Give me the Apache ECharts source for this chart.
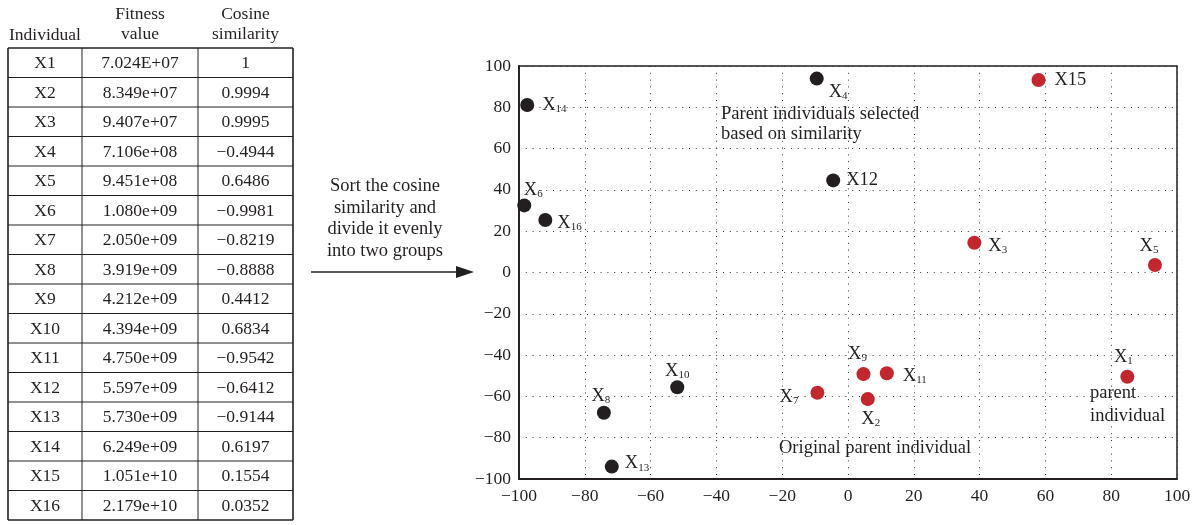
<!DOCTYPE html>
<html>
<head>
<meta charset="utf-8">
<script src="https://cdn.jsdelivr.net/npm/echarts@6/dist/echarts.min.js"></script>
<style>
  html, body { margin: 0; padding: 0; background: #fff; }
  #chart { width: 1202px; height: 525px; }
</style>
</head>
<body>
<div id="chart"></div>
<script>
// Table of candidate individuals
const individuals = ['X1', 'X2', 'X3', 'X4', 'X5', 'X6', 'X7', 'X8', 'X9', 'X10', 'X11', 'X12', 'X13', 'X14', 'X15', 'X16'];
const fitnessValues = ['7.024E+07', '8.349e+07', '9.407e+07', '7.106e+08', '9.451e+08', '1.080e+09', '2.050e+09', '3.919e+09',
  '4.212e+09', '4.394e+09', '4.750e+09', '5.597e+09', '5.730e+09', '6.249e+09', '1.051e+10', '2.179e+10'];
const cosineValues = ['1', '0.9994', '0.9995', '\u22120.4944', '0.6486', '\u22120.9981', '\u22120.8219', '\u22120.8888',
  '0.4412', '0.6834', '\u22120.9542', '\u22120.6412', '\u22120.9144', '0.6197', '0.1554', '0.0352'];

// Parent individuals selected based on similarity (black)
const selectedNames = ['X14', 'X6', 'X16', 'X4', 'X12', 'X10', 'X8', 'X13'];
const selectedX = [-97.5, -98.4, -92.0, -9.5, -4.5, -51.9, -74.2, -71.8];
const selectedY = [81.1, 32.5, 25.4, 93.9, 44.6, -55.6, -67.9, -94.0];

// Original parent individuals (red)
const originalNames = ['X15', 'X3', 'X5', 'X9', 'X11', 'X2', 'X7', 'X1'];
const originalX = [57.9, 38.4, 93.3, 4.7, 11.8, 6.0, -9.3, 84.9];
const originalY = [93.2, 14.4, 3.6, -49.2, -48.8, -61.3, -58.2, -50.5];

// Axis ticks
const xTicks = [-100, -80, -60, -40, -20, 0, 20, 40, 60, 80, 100];
const yTicks = [-100, -80, -60, -40, -20, 0, 20, 40, 60, 80, 100];

// Where each point's name is placed around its marker
const labelPlacement = {
  X14: { position: 'right', offset: [3, 0] },
  X6:  { position: 'top', offset: [9, 6] },
  X16: { position: 'right', offset: [0, 3] },
  X4:  { position: 'right', offset: [0, 14] },
  X12: { position: 'right', offset: [1, 0] },
  X10: { position: 'top', offset: [0, 5] },
  X8:  { position: 'top', offset: [-3, 5] },
  X13: { position: 'right', offset: [1, -3] },
  X15: { position: 'right', offset: [4, 0] },
  X3:  { position: 'right', offset: [2, 3] },
  X5:  { position: 'top', offset: [-6, 3] },
  X9:  { position: 'top', offset: [-6, 2] },
  X11: { position: 'right', offset: [4, 3] },
  X2:  { position: 'bottom', offset: [3, -1] },
  X7:  { position: 'left', offset: [-7, 4] },
  X1:  { position: 'top', offset: [-4, 2] }
};
// Names written without a subscript
const plainNames = ['X12', 'X15'];

const SERIF = '"Liberation Serif", "DejaVu Serif", serif';
const INK = '#231f20';
const RED = '#c1272d';

function pointData(names, xs, ys) {
  return names.map((n, i) => {
    const p = labelPlacement[n];
    return {
      name: n,
      value: [xs[i], ys[i]],
      label: { show: true, position: p.position, offset: p.offset }
    };
  });
}

function nameLabel(params) {
  const n = params.name;
  if (plainNames.indexOf(n) >= 0) return '{x|' + n + '}';
  return '{x|X}{s|' + n.slice(1) + '}';
}

const labelStyle = {
  show: true,
  distance: 5,
  formatter: nameLabel,
  rich: {
    x: { fontFamily: SERIF, fontSize: 18.5, color: INK, lineHeight: 19 },
    s: { fontFamily: SERIF, fontSize: 11, color: INK, verticalAlign: 'bottom', lineHeight: 10, padding: [9, 0, 0, 0] }
  }
};

// ---------- table graphics ----------
const colX = [8, 82, 198, 293];
const tableTop = 48;
const rowH = 29.5;
const TABLE_FONT = 17.5;
const graphics = [];

function text(x, y, str, size, align) {
  return {
    type: 'text', x: x, y: y, silent: true,
    style: { text: str, fontFamily: SERIF, fontSize: size, fill: INK, align: align || 'center', verticalAlign: 'middle' }
  };
}

graphics.push(text((colX[0] + colX[1]) / 2, 35, 'Individual', TABLE_FONT));
graphics.push(text((colX[1] + colX[2]) / 2, 14, 'Fitness', TABLE_FONT));
graphics.push(text((colX[1] + colX[2]) / 2, 34, 'value', TABLE_FONT));
graphics.push(text((colX[2] + colX[3]) / 2, 14, 'Cosine', TABLE_FONT));
graphics.push(text((colX[2] + colX[3]) / 2, 34, 'similarity', TABLE_FONT));

const nRows = individuals.length;
const tableBottom = tableTop + nRows * rowH;
// horizontal rules
for (let r = 0; r <= nRows; r++) {
  const y = tableTop + r * rowH;
  graphics.push({
    type: 'line', silent: true,
    shape: { x1: colX[0], y1: y, x2: colX[3], y2: y },
    style: { stroke: INK, lineWidth: (r === 0 || r === nRows) ? 1.6 : 1 }
  });
}
// vertical rules
colX.forEach((x, i) => {
  graphics.push({
    type: 'line', silent: true,
    shape: { x1: x, y1: tableTop, x2: x, y2: tableBottom },
    style: { stroke: INK, lineWidth: (i === 0 || i === colX.length - 1) ? 1.6 : 1 }
  });
});
// cell text
for (let r = 0; r < nRows; r++) {
  const cy = tableTop + r * rowH + rowH / 2 + 1;
  graphics.push(text((colX[0] + colX[1]) / 2, cy, individuals[r], TABLE_FONT));
  graphics.push(text((colX[1] + colX[2]) / 2, cy, fitnessValues[r], TABLE_FONT));
  graphics.push(text((colX[2] + colX[3]) / 2, cy, cosineValues[r], TABLE_FONT));
}

// ---------- arrow with caption ----------
['Sort the cosine', 'similarity and', 'divide it evenly', 'into two groups'].forEach((s, i) => {
  graphics.push(text(385, 186 + i * 21.7, s, 18.5));
});
graphics.push({
  type: 'line', silent: true,
  shape: { x1: 311, y1: 272, x2: 460, y2: 272 },
  style: { stroke: INK, lineWidth: 1.5 }
});
graphics.push({
  type: 'polygon', silent: true,
  shape: { points: [[474, 272], [456, 266], [456, 278]] },
  style: { fill: INK }
});

// ---------- annotations in the plot ----------
const NOTE_FONT = 18.5;
graphics.push(text(721, 114, 'Parent individuals selected', NOTE_FONT, 'left'));
graphics.push(text(721, 134, 'based on similarity', NOTE_FONT, 'left'));
graphics.push(text(779, 448, 'Original parent individual', NOTE_FONT, 'left'));
graphics.push(text(1090, 393, 'parent', NOTE_FONT, 'left'));
graphics.push(text(1090, 416, 'individual', NOTE_FONT, 'left'));

const minusFmt = v => String(v).replace('-', '\u2212');
const dotted = { show: true, lineStyle: { color: '#333', width: 1, type: [1, 5.8] } };

const chart = echarts.init(document.getElementById('chart'), null, { renderer: 'canvas' });
chart.setOption({
  animation: false,
  backgroundColor: '#fff',
  grid: {
    left: 519, right: 25, top: 66, bottom: 46,
    show: true, borderColor: INK, borderWidth: 1.5, backgroundColor: 'transparent'
  },
  xAxis: {
    type: 'value',
    min: xTicks[0], max: xTicks[xTicks.length - 1], interval: xTicks[1] - xTicks[0],
    axisLine: { show: true, onZero: false, lineStyle: { color: INK, width: 1.8 } },
    axisTick: { show: false },
    axisLabel: { fontFamily: SERIF, fontSize: 17.5, color: INK, margin: 8, formatter: minusFmt },
    splitLine: dotted
  },
  yAxis: {
    type: 'value',
    min: yTicks[0], max: yTicks[yTicks.length - 1], interval: yTicks[1] - yTicks[0],
    axisLine: { show: true, onZero: false, lineStyle: { color: INK, width: 1.8 } },
    axisTick: { show: false },
    axisLabel: { fontFamily: SERIF, fontSize: 17.5, color: INK, margin: 8, formatter: minusFmt },
    splitLine: dotted
  },
  series: [
    {
      name: 'Selected by similarity',
      type: 'scatter',
      symbolSize: 14,
      itemStyle: { color: INK, opacity: 1 },
      label: labelStyle,
      data: pointData(selectedNames, selectedX, selectedY)
    },
    {
      name: 'Original parent',
      type: 'scatter',
      symbolSize: 14,
      itemStyle: { color: RED, opacity: 1 },
      label: labelStyle,
      data: pointData(originalNames, originalX, originalY)
    }
  ],
  graphic: graphics
});
</script>
</body>
</html>
